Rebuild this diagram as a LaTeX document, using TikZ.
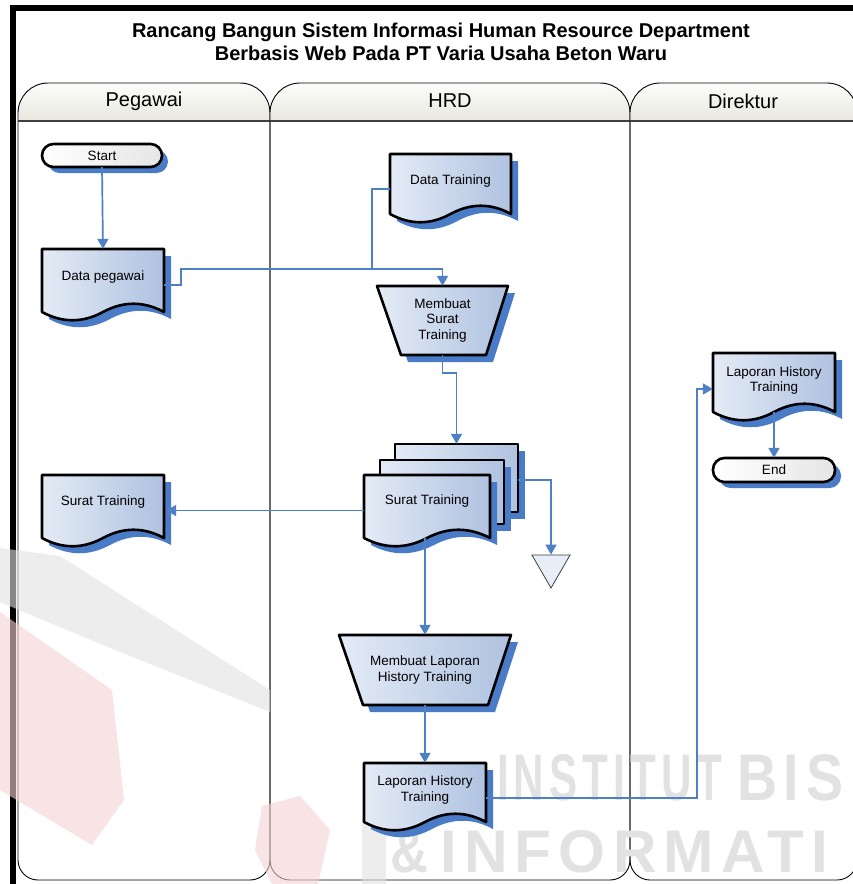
\documentclass[tikz,border=0pt]{standalone}
\usepackage{fontspec}
\setmainfont{Liberation Sans}
\newfontfamily\wmfont[LetterSpace=12]{Liberation Sans}
\usetikzlibrary{arrows.meta,calc,shapes.geometric}
\definecolor{conn}{HTML}{4F7FC4}
\definecolor{shad}{HTML}{4A7BC6}
\definecolor{fillA}{HTML}{E4EBF6}
\definecolor{fillB}{HTML}{AFC2E0}
\definecolor{hdrA}{HTML}{FCFCFA}
\definecolor{hdrB}{HTML}{E8E8E0}
\definecolor{trifill}{HTML}{E8EEF8}
\definecolor{wmgray}{HTML}{E2E2E2}
\definecolor{wmpink}{HTML}{F4D2D2}
\tikzset{
  shadowfill/.style={fill=shad,draw=none},
  shapesty/.style={draw=black,line width=2.6pt,line join=round,left color=fillA,right color=fillB},
  termsty/.style={draw=black,line width=2.6pt,left color=white,right color=black!10},
  abox/.style={draw=none,inner sep=0pt,rectangle},
  txt/.style={font=\fontsize{13.5}{15.5}\selectfont,align=center,inner sep=0pt},
  conn/.style={draw=conn,line width=1.7pt,-{Triangle[length=10pt,width=11pt]}},
  connline/.style={draw=conn,line width=1.7pt},
  lanesty/.style={draw=black,line width=0.9pt},
  hdrsty/.style={top color=hdrA,bottom color=hdrB},
  lanetxt/.style={font=\fontsize{20}{24}\selectfont,inner sep=0pt},
  tristy/.style={regular polygon,regular polygon sides=3,shape border rotate=180,draw=black!75,line width=0.8pt,fill=trifill,minimum size=44pt,inner sep=0pt},
  wmtxt/.style={text=wmgray,inner sep=0pt,anchor=base west,font=\wmfont\bfseries},
  wmshape/.style={fill opacity=0.6,draw=none}
}
\newcommand\docpath[5]{%
  \path[#1] (#2,#3) -- (#4,#3) -- (#4,#5) .. controls ({#4-(#4-#2)/6},{#5-11}) and ({#4-(#4-#2)/3},{#5-11}) .. ({(#2+#4)/2},#5) .. controls ({#2+(#4-#2)/3},{#5+11}) and ({#2+(#4-#2)/6},{#5+11}) .. (#2,#5) -- cycle;}
\newcommand\docnode[7]{%
  \docpath{shadowfill,shift={(7,7)}}{#2}{#3}{#4}{#5}%
  \docpath{shapesty}{#2}{#3}{#4}{#5}%
  \node[abox,minimum width={#4-#2},minimum height={#5-#3}] (#1) at ({(#2+#4)/2},{(#3+#5)/2}) {};
  \node[txt] (#1-t) at ({(#2+#4)/2},#6) {#7};}
\newcommand\termnode[6]{%
  \path[shadowfill,rounded corners=11.5,shift={(6,6)}] (#2,#3) rectangle (#4,#5);
  \path[termsty,rounded corners=11.5] (#2,#3) rectangle (#4,#5);
  \node[txt,minimum width={#4-#2},minimum height={#5-#3}] (#1) at ({(#2+#4)/2},{(#3+#5)/2}) {#6};}
\newcommand\trapnode[8]{% name, topy, tx1, tx2, boty, bx1, bx2, text
  \path[shadowfill,shift={(7,7)}] (#3,#2) -- (#4,#2) -- (#7,#5) -- (#6,#5) -- cycle;
  \path[shapesty] (#3,#2) -- (#4,#2) -- (#7,#5) -- (#6,#5) -- cycle;
  \node[abox,minimum width={#4-#3},minimum height={#5-#2}] (#1) at ({(#3+#4)/2},{(#2+#5)/2}) {};
  \node[txt] (#1-t) at ({(#3+#4)/2},{(#2+#5)/2}) {#8};}
\newcommand\lane[3]{% x1, x2, name
  \path[hdrsty] (#1,121) -- (#1,113) arc[start angle=180,end angle=270,radius=30] -- ({#2-30},83) arc[start angle=270,end angle=360,radius=30] -- (#2,121) -- cycle;
  \draw[lanesty] (#1,121) -- (#1,113) arc[start angle=180,end angle=270,radius=30] -- ({#2-30},83) arc[start angle=270,end angle=360,radius=30] -- (#2,121);
  \draw[lanesty] (#1,121) -- (#1,860) arc[start angle=180,end angle=90,radius=20] -- ({#2-20},880) arc[start angle=90,end angle=0,radius=20] -- (#2,121);
  \draw[draw=black!75,line width=2pt] (#1,121) -- (#2,121);
}
\begin{document}
\begin{tikzpicture}[x=1pt,y=-1pt]
\useasboundingbox (0,0) rectangle (853,884);
\fill[white] (0,0) rectangle (853,884);
% frame
\draw[line width=5.5pt] (13,890) -- (13,8) -- (860,8);
% title
\node[font=\fontsize{20}{23}\selectfont\bfseries,align=center,inner sep=0pt] (title) at (441,41.5)
  {Rancang Bangun Sistem Informasi Human Resource Department\\Berbasis Web Pada PT Varia Usaha Beton Waru};
% lanes
\lane{18}{270}{peg}
\lane{270}{630}{hrd}
\lane{630}{857}{dir}
\node[lanetxt] (lpeg) at (144,101) {Pegawai};
\node[lanetxt] (lhrd) at (450,101) {HRD};
\node[lanetxt] (ldir) at (743,101) {Direktur};
% watermark (faint)
\fill[wmgray,wmshape] (0,548) -- (60,556) -- (270,690) -- (270,712) -- (120,652) -- (0,602) -- cycle;
\fill[wmpink,wmshape] (0,612) -- (112,690) -- (124,800) -- (92,845) -- (0,790) -- cycle;
\fill[wmpink,wmshape] (262,806) -- (300,796) -- (330,830) -- (318,884) -- (272,884) -- (255,850) -- cycle;
\fill[wmgray,wmshape] (362,818) rectangle (386,884);
\node[wmtxt] (wm1) at (497,800) {\resizebox{225pt}{46pt}{INSTITUT}};
\node[wmtxt] (wm2) at (737,800) {\resizebox{106pt}{46pt}{BIS}};
\node[wmtxt] (wm3) at (390,872) {\resizebox{38pt}{42pt}{\&}};
\node[wmtxt] (wm4) at (440,872) {\resizebox{388pt}{42pt}{INFORMATI}};
% shapes
\termnode{start}{42}{144}{162}{167}{Start}
\docnode{dp}{42}{249}{164}{312}{277}{Data pegawai}
\docnode{dt}{390}{154}{511}{214}{181}{Data Training}
\trapnode{ms}{286}{377}{508}{355}{401}{486}{Membuat\\Surat\\Training}
% multi document
\path[shadowfill,shift={(7,7)}] (395,444) rectangle (518,512);
\path[shapesty] (395,444) rectangle (518,512);
\node[abox,minimum width=123,minimum height=68] (stB) at (456.5,478) {};
\path[shadowfill,shift={(7,7)}] (380,460) rectangle (504,524);
\path[shapesty] (380,460) rectangle (504,524);
\node[abox,minimum width=124,minimum height=64] (stM) at (442,492) {};
\docnode{stF}{364}{475}{490}{538}{501}{Surat Training}
\docnode{stP}{42}{475}{164}{538}{502}{Surat Training}
\node[tristy] (tri) at (551,566) {};
\trapnode{ml}{635}{339}{511}{705}{363}{488}{Membuat Laporan\\History Training}
\docnode{lhH}{364}{763}{486}{822}{790}{Laporan History\\Training}
\docnode{lhD}{713}{353}{835}{412}{380.5}{Laporan History\\Training}
\termnode{end}{713}{458}{835}{482}{End}
% connectors
\coordinate (j1) at (372,269);
\coordinate (k1) at (697,389);
\draw[conn] (start.south) -- (dp.north);
\draw[connline] ([yshift=-5]dt.west) -| (j1);
\draw[conn] ([yshift=-4.5]dp.east) -- ++(17,0) |- (j1) -| (ms.north);
\draw[conn] (ms.south) -- ++(0,18) -| (stB.north);
\draw[conn] ([yshift=-4]stF.west) -- ([yshift=-4,xshift=2]stP.east);
\draw[conn] ([yshift=-2]stB.east) -| (tri.north);
\draw[conn] (ml.north |- stF.south) -- (ml.north);
\draw[conn] (ml.south) -- (lhH.north);
\draw[conn] ([yshift=-5.5]lhH.east) -| (k1) -- (k1 -| lhD.west);
\draw[conn] (lhD.south) -- (end.north);
\end{tikzpicture}
\end{document}
